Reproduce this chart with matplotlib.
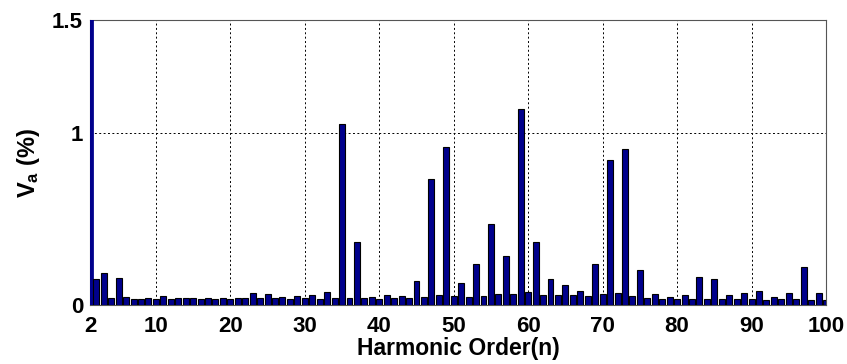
import matplotlib
matplotlib.use("Agg")
import matplotlib.pyplot as plt
import numpy as np

# Harmonic orders and magnitudes (% of fundamental)
harmonics = list(range(1, 101))
values = [
    1.80,                                              # 1 (fundamental, off scale)
    0.149, 0.188, 0.039, 0.155, 0.045, 0.033, 0.033, 0.039, 0.033,  # 2-10
    0.050, 0.033, 0.039, 0.039, 0.039, 0.033, 0.039, 0.033, 0.039, 0.033,  # 11-20
    0.039, 0.039, 0.068, 0.039, 0.062, 0.039, 0.047, 0.035, 0.050, 0.039,  # 21-30
    0.058, 0.035, 0.078, 0.039, 1.052, 0.039, 0.364, 0.039, 0.045, 0.033,  # 31-40
    0.056, 0.039, 0.050, 0.039, 0.137, 0.047, 0.735, 0.060, 0.921, 0.052,  # 41-50
    0.130, 0.048, 0.240, 0.052, 0.472, 0.065, 0.286, 0.065, 1.139, 0.076,  # 51-60
    0.364, 0.060, 0.152, 0.058, 0.115, 0.058, 0.081, 0.050, 0.240, 0.065,  # 61-70
    0.843, 0.071, 0.909, 0.050, 0.206, 0.039, 0.062, 0.033, 0.045, 0.033,  # 71-80
    0.056, 0.033, 0.161, 0.033, 0.153, 0.033, 0.056, 0.033, 0.072, 0.033,  # 81-90
    0.083, 0.027, 0.047, 0.033, 0.072, 0.033, 0.221, 0.027, 0.068, 0.027,  # 91-100
]

x_left = 1.15
x_ticks = [x_left, 10, 20, 30, 40, 50, 60, 70, 80, 90, 100]
x_tick_labels = ["2", "10", "20", "30", "40", "50", "60", "70", "80", "90", "100"]
y_top = 1.657
y_ticks = [0, 1, y_top]
y_tick_labels = ["0", "1", "1.5"]

plt.rcParams['font.family'] = ['Liberation Sans', 'DejaVu Sans']
plt.rcParams['mathtext.fontset'] = 'custom'
plt.rcParams['mathtext.bf'] = 'Liberation Sans:bold'
plt.rcParams['mathtext.rm'] = 'Liberation Sans:bold'

fig = plt.figure(figsize=(8.47, 3.64), dpi=100)
ax = fig.add_axes([90/847, 1 - 305/364, (826 - 90)/847, (305 - 20)/364])

bars = ax.bar(harmonics, values, width=0.8, color='#00008c', edgecolor='black',
              linewidth=0.8, zorder=3)
bars[0].set_edgecolor('#00008c')
bars[0].set_linewidth(2.0)

ax.set_xlim(x_left, 100)
ax.set_ylim(0, y_top)
ax.set_xticks(x_ticks)
ax.set_xticklabels(x_tick_labels, fontsize=16, fontweight='bold')
ax.set_yticks(y_ticks)
ax.set_yticklabels(y_tick_labels, fontsize=16, fontweight='bold')
ax.tick_params(axis='x', direction='in', length=0, pad=8)
ax.tick_params(axis='y', direction='in', length=0, pad=5)

# grid lines (dotted), only interior ticks
for gx in [10, 20, 30, 40, 50, 60, 70, 80, 90]:
    ax.axvline(gx, color='black', linestyle=(0, (2, 2.5)), linewidth=0.7, zorder=1)
ax.axhline(1, color='black', linestyle=(0, (2, 2.5)), linewidth=0.7, zorder=1)

for name, s in ax.spines.items():
    s.set_color('#555555')
    s.set_linewidth(0.8)
    s.set_zorder(2)

ax.set_xlabel("Harmonic Order(n)", fontsize=16.5, fontweight='bold', labelpad=0)
ax.set_ylabel(r"$\mathbf{V_a}$ (%)", fontsize=17, fontweight='bold', labelpad=7)

fig.savefig("out.png", dpi=100)
